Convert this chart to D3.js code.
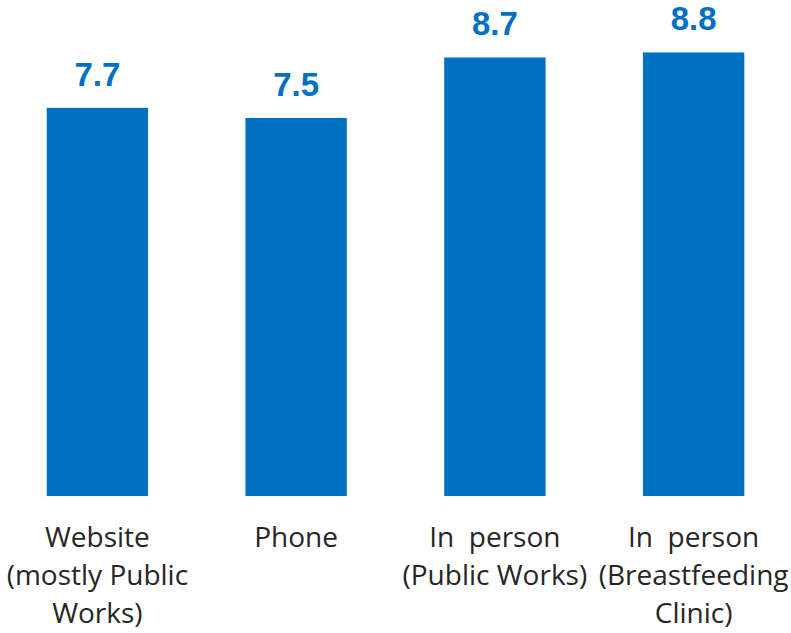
<!DOCTYPE html>
<html>
<head>
<meta charset="utf-8">
<script src="https://cdn.jsdelivr.net/npm/d3@7"></script>
<style>
  html, body { margin: 0; padding: 0; background: #ffffff; overflow: hidden; }
  svg { display: block; }
</style>
</head>
<body>
<div id="chart"></div>
<script>
// Satisfaction score by contact channel
const categories = [
  ["Website", "(mostly Public", "Works)"],
  ["Phone"],
  ["In  person", "(Public Works)"],
  ["In  person", "(Breastfeeding", "Clinic)"]
];
const values = [7.7, 7.5, 8.7, 8.8];
const valueLabels = ["7.7", "7.5", "8.7", "8.8"];

const width = 791, height = 633;
const baseline = 496;
const barColor = "#0070C0";

const svg = d3.select("#chart").append("svg")
  .attr("width", width)
  .attr("height", height);

const x = d3.scaleBand()
  .domain(d3.range(values.length))
  .range([0, width])
  .paddingInner(0.49)
  .paddingOuter(0.235);

const y = d3.scaleLinear()
  .domain([0, 9.84])
  .range([baseline, 0]);

// bars
svg.selectAll("rect.bar")
  .data(values)
  .join("rect")
  .attr("class", "bar")
  .attr("x", (d, i) => x(i))
  .attr("y", d => y(d))
  .attr("width", x.bandwidth())
  .attr("height", d => baseline - y(d))
  .attr("fill", barColor);

// value labels above bars
svg.selectAll("text.value")
  .data(values)
  .join("text")
  .attr("class", "value")
  .attr("x", (d, i) => x(i) + x.bandwidth() / 2)
  .attr("y", d => y(d) - 22)
  .attr("text-anchor", "middle")
  .attr("font-family", "'Liberation Sans', Arial, sans-serif")
  .attr("font-weight", "bold")
  .attr("font-size", 33)
  .attr("fill", barColor)
  .text((d, i) => valueLabels[i]);

// category labels under the baseline
const catG = svg.selectAll("text.cat")
  .data(categories)
  .join("text")
  .attr("class", "cat")
  .attr("text-anchor", "middle")
  .attr("font-family", "'Open Sans', sans-serif")
  .attr("font-size", 28)
  .attr("fill", "#262626")
  .style("white-space", "pre");

catG.selectAll("tspan")
  .data((lines, i) => lines.map((t, j) => ({ t, j, i })))
  .join("tspan")
  .attr("x", d => x(d.i) + x.bandwidth() / 2)
  .attr("y", d => 547 + d.j * 38)
  .text(d => d.t);

// footer note, clipped by the bottom edge
svg.append("text")
  .attr("x", 0)
  .attr("y", 645)
  .attr("font-family", "'Open Sans', sans-serif")
  .attr("font-size", 16)
  .attr("fill", "#a6a6a6")
  .text("© 2017");
</script>
</body>
</html>
